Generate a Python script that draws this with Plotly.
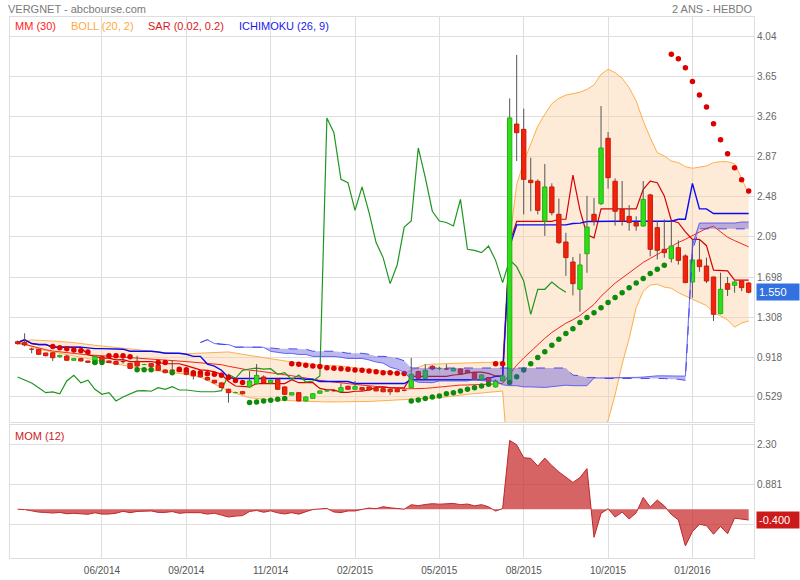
import plotly.graph_objects as go

# ---------------- data (weekly bars, index 0..104) ----------------
tick_labels = ["06/2014", "09/2014", "11/2014", "02/2015", "05/2015", "08/2015", "10/2015", "01/2016"]
tick_bars = [12, 24, 36, 48, 60, 72, 84, 96]

price_ticks = [0.529, 0.918, 1.308, 1.698, 2.09, 2.48, 2.87, 3.26, 3.65, 4.04]
price_tick_text = ["0.529", "0.918", "1.308", "1.698", "2.09", "2.48", "2.87", "3.26", "3.65", "4.04"]
mom_ticks = [2.30, 0.881, -0.538]
mom_tick_text = ["2.30", "0.881", ""]

open_ = [
    1.068, 1.059, 0.995, 0.994, 0.958, 0.96, 0.922, 0.928, 0.887, 0.903,
    0.88, 0.854, 0.922, 0.88, 0.874, 0.874, 0.857, 0.877, 0.845, 0.854,
    0.838, 0.792, 0.792, 0.792, 0.783, 0.766, 0.75, 0.718, 0.692, 0.666,
    0.604, 0.572, 0.581, 0.627, 0.659, 0.724, 0.666, 0.70, 0.627, 0.548,
    0.571, 0.49, 0.516, 0.565, 0.588, 0.59, 0.581, 0.633, 0.604, 0.62,
    0.627, 0.614, 0.61, 0.604, 0.604, 0.594, 0.62, 0.776, 0.711, 0.828,
    0.808, 0.802, 0.783, 0.802, 0.789, 0.766, 0.70, 0.718, 0.627, 0.685,
    0.68, 3.19, 3.139, 2.642, 2.632, 2.245, 2.577, 2.31, 2.04, 1.845,
    1.579, 1.926, 2.31, 2.414, 3.051, 2.632, 2.358, 2.29, 2.229, 2.196,
    2.499, 2.18, 1.969, 1.878, 1.985, 1.904, 1.65, 1.865, 1.806, 1.699,
    1.342, 1.634, 1.618, 1.66, 1.64]
high = [
    1.08, 1.15, 1.01, 1.0, 0.96, 0.965, 0.94, 0.94, 0.91, 0.91,
    0.88, 0.93, 0.93, 0.885, 0.88, 0.945, 0.86, 0.93, 0.852, 0.86,
    0.84, 0.80, 0.886, 0.80, 0.79, 0.77, 0.755, 0.72, 0.695, 0.67,
    0.61, 0.58, 0.585, 0.78, 0.85, 0.74, 0.70, 0.71, 0.63, 0.575,
    0.575, 0.535, 0.565, 0.595, 0.60, 0.60, 0.66, 0.64, 0.685, 0.625,
    0.63, 0.62, 0.615, 0.61, 0.61, 0.60, 0.91, 0.785, 0.848, 0.84,
    0.825, 0.848, 0.81, 0.81, 0.795, 0.77, 0.75, 0.725, 0.70, 0.745,
    3.44, 3.864, 3.34, 2.862, 2.65, 2.80, 2.612, 2.463, 2.13, 1.894,
    1.926, 2.49, 2.47, 3.366, 3.113, 2.66, 2.635, 2.40, 2.29, 2.635,
    2.51, 2.245, 2.26, 2.245, 2.056, 1.92, 2.066, 2.066, 1.887, 1.70,
    1.741, 1.70, 1.66, 1.66, 1.65]
low = [
    1.04, 1.023, 0.955, 0.94, 0.925, 0.88, 0.91, 0.88, 0.88, 0.875,
    0.865, 0.85, 0.87, 0.86, 0.84, 0.854, 0.80, 0.80, 0.843, 0.82,
    0.785, 0.76, 0.766, 0.77, 0.74, 0.70, 0.72, 0.69, 0.66, 0.615,
    0.473, 0.565, 0.555, 0.62, 0.65, 0.66, 0.66, 0.60, 0.55, 0.545,
    0.485, 0.485, 0.51, 0.56, 0.58, 0.58, 0.57, 0.60, 0.60, 0.59,
    0.59, 0.585, 0.575, 0.55, 0.575, 0.585, 0.615, 0.705, 0.705, 0.79,
    0.79, 0.79, 0.78, 0.745, 0.76, 0.695, 0.695, 0.67, 0.62, 0.68,
    0.66, 2.83, 2.31, 2.34, 2.31, 2.10, 2.30, 2.02, 1.71, 1.52,
    1.36, 1.74, 2.20, 2.40, 2.56, 2.20, 2.20, 2.15, 2.15, 2.19,
    1.90, 1.87, 1.887, 1.84, 1.82, 1.64, 1.497, 1.75, 1.64, 1.27,
    1.335, 1.514, 1.546, 1.56, 1.54]
close = [
    1.049, 1.036, 0.99, 0.945, 0.932, 0.912, 0.935, 0.887, 0.903, 0.88,
    0.867, 0.922, 0.874, 0.864, 0.848, 0.87, 0.808, 0.831, 0.85, 0.825,
    0.789, 0.766, 0.783, 0.776, 0.75, 0.734, 0.724, 0.695, 0.666, 0.62,
    0.571, 0.578, 0.56, 0.685, 0.74, 0.666, 0.692, 0.604, 0.555, 0.571,
    0.49, 0.529, 0.561, 0.588, 0.59, 0.585, 0.62, 0.604, 0.63, 0.597,
    0.597, 0.588, 0.58, 0.58, 0.58, 0.59, 0.75, 0.711, 0.789, 0.802,
    0.81, 0.80, 0.805, 0.75, 0.766, 0.70, 0.744, 0.675, 0.685, 0.734,
    3.25, 3.106, 2.651, 2.619, 2.349, 2.577, 2.326, 2.034, 1.888, 1.634,
    1.816, 2.186, 2.245, 2.957, 2.667, 2.34, 2.245, 2.23, 2.196, 2.456,
    1.969, 1.959, 1.936, 2.001, 1.861, 1.644, 1.865, 1.80, 1.66, 1.335,
    1.579, 1.579, 1.65, 1.595, 1.55]

mm30 = [
    1.049, 1.043, 1.025, 1.005, 0.990, 0.977, 0.971, 0.961, 0.954, 0.946,
    0.939, 0.937, 0.932, 0.927, 0.922, 0.918, 0.912, 0.908, 0.905, 0.901,
    0.895, 0.889, 0.884, 0.879, 0.874, 0.868, 0.863, 0.857, 0.850, 0.844,
    0.828, 0.813, 0.799, 0.790, 0.784, 0.776, 0.767, 0.758, 0.746, 0.736,
    0.724, 0.710, 0.700, 0.691, 0.682, 0.673, 0.666, 0.659, 0.652, 0.644,
    0.638, 0.632, 0.625, 0.618, 0.613, 0.608, 0.609, 0.609, 0.613, 0.619,
    0.627, 0.635, 0.643, 0.645, 0.646, 0.647, 0.649, 0.651, 0.656, 0.661,
    0.753, 0.839, 0.909, 0.976, 1.035, 1.101, 1.158, 1.206, 1.248, 1.282,
    1.323, 1.376, 1.432, 1.511, 1.580, 1.639, 1.689, 1.739, 1.786, 1.841,
    1.880, 1.919, 1.956, 1.998, 2.035, 2.066, 2.103, 2.141, 2.173, 2.193,
    2.138, 2.087, 2.053, 2.019, 1.993]

bb_up_idx = [0, 2, 5, 8, 11, 14, 18, 21, 24, 27,
             30, 32, 34, 36, 39, 41, 43, 46, 48, 51,
             53, 55, 56, 58, 62, 65, 69, 70, 71, 72,
             73, 74, 75, 76, 77, 78, 80, 81, 82, 83,
             84, 85, 86, 87, 88, 89, 90, 91, 92, 93,
             94, 95, 96, 97, 98, 99, 100, 101, 102, 103, 104]
bb_up = [1.055, 1.085, 1.075, 1.059, 1.033, 1.01, 0.985, 0.961, 0.95, 0.96,
         0.968, 0.945, 0.922, 0.903, 0.87, 0.857, 0.838, 0.831, 0.815, 0.79,
         0.77, 0.755, 0.79, 0.845, 0.857, 0.86, 0.87, 2.05, 2.60, 2.82,
         3.0, 3.17, 3.285, 3.389, 3.441, 3.473, 3.50, 3.529, 3.571, 3.675,
         3.724, 3.691, 3.636, 3.545, 3.415, 3.22, 3.057, 2.911, 2.879, 2.83,
         2.814, 2.775, 2.759, 2.772, 2.781, 2.814, 2.823, 2.823, 2.804, 2.66, 2.505]
bb_lo_idx = [0, 1, 3, 6, 8, 11, 13, 15, 18, 20,
             22, 24, 26, 29, 31, 33, 36, 40, 44, 50,
             55, 60, 64, 69, 70, 71, 73, 76, 79, 81,
             83, 84, 85, 86, 87, 88, 89, 90, 91, 92,
             93, 94, 95, 96, 98, 99, 100, 101, 102, 103, 104]
bb_lo = [1.055, 1.045, 0.994, 0.955, 0.935, 0.896, 0.87, 0.838, 0.80, 0.783,
         0.766, 0.75, 0.725, 0.62, 0.565, 0.522, 0.50, 0.49, 0.48, 0.485,
         0.50, 0.522, 0.555, 0.587, -0.3, -0.5, -0.75, -0.6, -0.35, -0.1,
         0.18, 0.30, 0.55, 0.85, 1.10, 1.40, 1.56, 1.62, 1.628, 1.60,
         1.589, 1.546, 1.514, 1.48, 1.42, 1.35, 1.32, 1.28, 1.21, 1.25, 1.27]

tenkan = [
    1.06, 1.087, 1.05, 1.04, 1.04, 1.015, 1.015, 1.015, 1.015, 1.013,
    0.94, 0.925, 0.908, 0.908, 0.89, 0.893, 0.873, 0.873, 0.873, 0.873,
    0.865, 0.853, 0.853, 0.853, 0.835, 0.815, 0.793, 0.788, 0.773, 0.75,
    0.68, 0.636, 0.632, 0.627, 0.66, 0.66, 0.66, 0.66, 0.66, 0.698,
    0.668, 0.668, 0.668, 0.613, 0.598, 0.598, 0.573, 0.573, 0.585, 0.585,
    0.598, 0.623, 0.628, 0.618, 0.618, 0.618, 0.73, 0.73, 0.73, 0.73,
    0.73, 0.73, 0.743, 0.748, 0.763, 0.772, 0.772, 0.759, 0.734, 0.734,
    2.03, 2.242, 2.242, 2.242, 2.242, 2.242, 2.242, 2.262, 2.262, 2.692,
    2.35, 2.111, 2.08, 2.363, 2.363, 2.363, 2.363, 2.363, 2.363, 2.553,
    2.633, 2.618, 2.49, 2.25, 2.228, 2.138, 2.066, 2.066, 2.004, 1.765,
    1.765, 1.758, 1.668, 1.668, 1.668]
kijun = (
    [1.06, 1.087, 1.05, 1.04, 1.04] + [1.015] * 5 + [1.0075] + [1.0] * 3 + [0.995] * 2
    + [0.975] * 4 + [0.9675] + [0.955] * 3 + [0.945] + [0.925] * 2
    + [0.85, 0.83, 0.79, 0.719] + [0.709] * 10 + [0.7015] * 2 + [0.68] * 5 + [0.66] * 8
    + [0.6975] * 11 + [0.71] + [0.73] * 2 + [1.995] + [2.207] * 8 + [2.22, 2.2245, 2.24]
    + [2.242] * 12 + [2.262] * 2 + [2.612] + [2.363] * 2 + [2.318] * 6)

cloud_start = 26
senkou_a = [
    1.06, 1.087, 1.05, 1.04, 1.04, 1.015, 1.015, 1.015, 1.015, 1.013,
    0.974, 0.9625, 0.954, 0.954, 0.9425, 0.944, 0.924, 0.924, 0.924, 0.924,
    0.916, 0.904, 0.904, 0.904, 0.89, 0.87, 0.859, 0.819, 0.80, 0.77,
    0.70, 0.672, 0.67, 0.668, 0.685, 0.685, 0.685, 0.685, 0.685, 0.703,
    0.688, 0.685, 0.685, 0.647, 0.639, 0.639, 0.627, 0.627, 0.622, 0.622,
    0.629, 0.64, 0.644, 0.639, 0.639, 0.639, 0.714, 0.714, 0.714, 0.714,
    0.714, 0.714, 0.72, 0.723, 0.73, 0.735, 0.735, 0.735, 0.732, 0.732,
    2.01, 2.225, 2.225, 2.225, 2.225, 2.225, 2.225, 2.235, 2.235]
senkou_b = (
    [1.06, 1.087, 1.0525, 1.045, 1.0375] + [1.015] * 5
    + [1.0075] + [1.0] * 3 + [0.995] * 2 + [0.975] * 4
    + [0.9675] + [0.955] * 3 + [0.945] + [0.925] * 2 + [0.92, 0.905, 0.8825]
    + [0.8115] * 23 + [0.7415, 0.7365] + [0.719] * 2 + [0.709] * 10 + [0.7015] * 2 + [0.6915]
    + [1.9565] + [2.1685] * 8)

chikou_shift = 26

sar = (
    [None] * 5
    + [1.02, 1.01, 1.0, 0.987, 0.98, 0.968]
    + [0.864, 0.864]
    + [0.93, 0.93, 0.93, 0.92]
    + [0.795, 0.795, 0.795]
    + [0.864, 0.864]
    + [0.766]
    + [0.80, 0.795, 0.766, 0.766, 0.756, 0.75, 0.74, 0.718, 0.69, 0.669]
    + [0.474, 0.48, 0.49, 0.497, 0.506, 0.513]
    + [0.854, 0.848, 0.838, 0.831, 0.825, 0.815, 0.809, 0.805, 0.799, 0.792,
       0.789, 0.783, 0.776, 0.766, 0.766, 0.76, 0.757]
    + [0.49, 0.50, 0.513, 0.529, 0.539, 0.561, 0.571, 0.588, 0.604, 0.62, 0.636, 0.653]
    + [0.854, 0.854]
    + [0.669, 0.727, 0.792, 0.854, 0.913, 0.971, 1.033, 1.091, 1.147, 1.195,
       1.254, 1.303, 1.351, 1.40, 1.449, 1.498, 1.546, 1.595, 1.641, 1.683,
       1.732, 1.774, 1.813]
    + [3.87, 3.828, 3.74, 3.604, 3.474, 3.357, 3.194, 3.038, 2.9, 2.765, 2.648, 2.538])
sar_side = ("-----" + "rrrrrr" + "gg" + "rrrr" + "ggg" + "rr" + "g" + "r" * 10 + "g" * 6
            + "r" * 17 + "g" * 12 + "rr" + "g" * 23 + "r" * 12)

mom = [
    0, -0.013, -0.059, -0.104, -0.117, -0.137, -0.114, -0.162, -0.146, -0.169,
    -0.182, -0.127, -0.175, -0.172, -0.142, -0.075, -0.124, -0.081, -0.085, -0.062,
    -0.114, -0.114, -0.084, -0.146, -0.124, -0.13, -0.124, -0.175, -0.142, -0.211,
    -0.279, -0.247, -0.229, -0.081, -0.043, -0.11, -0.058, -0.13, -0.169, -0.124,
    -0.176, -0.091, -0.01, 0.01, 0.03, -0.1, -0.12, -0.062, -0.062, -0.007,
    0.042, 0.017, 0.09, 0.051, 0.019, 0.002, 0.16, 0.126, 0.169, 0.198,
    0.18, 0.203, 0.208, 0.162, 0.186, 0.12, 0.164, 0.085, -0.065, 0.023,
    2.461, 2.304, 1.841, 1.819, 1.544, 1.827, 1.56, 1.334, 1.144, 0.959,
    1.131, 1.452, -1.005, -0.149, 0.016, -0.279, -0.104, -0.347, -0.13, 0.422,
    0.081, 0.325, 0.12, -0.185, -0.384, -1.313, -0.802, -0.54, -0.585, -0.895,
    -0.617, -0.877, -0.319, -0.364, -0.386]

last_price_text = "1.550"
last_mom_text = "-0.400"

n = len(close)
bars = list(range(n))
for arr in (open_, high, low, mm30, tenkan, kijun, sar, mom):
    assert len(arr) == n, len(arr)
assert len(sar_side) == n
assert len(senkou_a) == n - cloud_start and len(senkou_b) == n - cloud_start
assert len(bb_up) == len(bb_up_idx) and len(bb_lo) == len(bb_lo_idx)

# ---------------- figure ----------------
FONT = "Liberation Sans, Arial, sans-serif"
GRID = "#dedede"
fig = go.Figure()

# Bollinger band
fig.add_trace(go.Scatter(x=bb_up_idx, y=bb_up, mode="lines",
                         line=dict(color="#ffae4a", width=1), hoverinfo="skip"))
fig.add_trace(go.Scatter(x=bb_lo_idx, y=bb_lo, mode="lines", fill="tonexty",
                         fillcolor="rgba(250,205,160,0.42)",
                         line=dict(color="#ffae4a", width=1), hoverinfo="skip"))

# MM30, Tenkan, Kijun, Chikou
fig.add_trace(go.Scatter(x=bars, y=mm30, mode="lines", line=dict(color="#f0281e", width=1)))
fig.add_trace(go.Scatter(x=bars, y=tenkan, mode="lines", line=dict(color="#d80000", width=1.2)))
fig.add_trace(go.Scatter(x=bars, y=kijun, mode="lines", line=dict(color="#0a0af0", width=1.4)))
fig.add_trace(go.Scatter(x=bars[:n - chikou_shift], y=close[chikou_shift:], mode="lines",
                         line=dict(color="#1e961e", width=1.2)))

# candles: wicks then bodies
wx, wy = [], []
for i in bars:
    wx += [i, i, None]
    wy += [low[i], high[i], None]
fig.add_trace(go.Scatter(x=wx, y=wy, mode="lines", line=dict(color="#555555", width=1),
                         hoverinfo="skip"))
half = 0.31
for up, fc, lc in ((True, "#2ede18", "#24b014"), (False, "#f2220c", "#c81a08")):
    bx, by = [], []
    for i in bars:
        if (close[i] >= open_[i]) == up:
            bx += [i - half, i + half, i + half, i - half, i - half, None]
            by += [open_[i], open_[i], close[i], close[i], open_[i], None]
    fig.add_trace(go.Scatter(x=bx, y=by, mode="lines", fill="toself", fillcolor=fc,
                             line=dict(color=lc, width=1), hoverinfo="skip"))

# Parabolic SAR
sx_r = [i for i in bars if sar_side[i] == "r"]
sx_g = [i for i in bars if sar_side[i] == "g"]
fig.add_trace(go.Scatter(x=sx_r, y=[sar[i] for i in sx_r], mode="markers",
                         marker=dict(color="#dc0000", size=5.5)))
fig.add_trace(go.Scatter(x=sx_g, y=[sar[i] for i in sx_g], mode="markers",
                         marker=dict(color="#0c8c0c", size=5.5)))

# Ichimoku cloud (on top)
cloud_x = bars[cloud_start:]
fig.add_trace(go.Scatter(x=cloud_x, y=senkou_a, mode="lines",
                         line=dict(color="rgba(80,80,245,0.85)", width=1)))
fig.add_trace(go.Scatter(x=cloud_x, y=senkou_b, mode="lines", fill="tonexty",
                         fillcolor="rgba(75,70,215,0.38)",
                         line=dict(color="rgba(60,60,240,0.9)", width=1, dash="dash")))

# Momentum panel
fig.add_trace(go.Scatter(x=bars, y=mom, mode="lines", fill="tozeroy",
                         fillcolor="rgba(200,40,40,0.72)",
                         line=dict(color="#c0262a", width=1), xaxis="x2", yaxis="y2"))

XR = [-1.08, 104.76]
common = dict(showgrid=True, gridcolor=GRID, gridwidth=1, zeroline=False, showline=True,
              linecolor=GRID, mirror=True, automargin=False)
fig.update_layout(
    width=800, height=580,
    margin=dict(l=10, r=46, t=17, b=22, autoexpand=False),
    paper_bgcolor="white", plot_bgcolor="white",
    showlegend=False, hovermode=False,
    font=dict(family=FONT, size=10, color="#555"),
    xaxis=dict(domain=[0, 1], range=XR, anchor="y", tickvals=tick_bars, showticklabels=False,
               ticks="", **common),
    yaxis=dict(domain=[0.2514, 1], range=[0.285, 4.234], anchor="x", side="right",
               tickvals=price_ticks, ticktext=price_tick_text, ticks="",
               tickfont=dict(size=10, color="#666"), **common),
    xaxis2=dict(domain=[0, 1], range=XR, anchor="y2", tickvals=tick_bars, ticktext=tick_labels,
                ticks="outside", ticklen=3, tickcolor="rgba(0,0,0,0)",
                tickfont=dict(size=10, color="#555"), **common),
    yaxis2=dict(domain=[0, 0.2458], range=[-1.744, 3.01], anchor="x2", side="right",
                tickvals=mom_ticks, ticktext=mom_tick_text, ticks="",
                tickfont=dict(size=10, color="#666"), **common),
)

ann = []
ann.append(dict(x=0, xref="paper", xanchor="left", xshift=-4, y=1, yref="paper", yanchor="middle",
                yshift=8, text="VERGNET - abcbourse.com", showarrow=False,
                font=dict(size=11, color="#7a7a7a")))
ann.append(dict(x=1, xref="paper", xanchor="right", xshift=1, y=1, yref="paper", yanchor="middle",
                yshift=8, text="2 ANS - HEBDO", showarrow=False,
                font=dict(size=11, color="#7a7a7a")))
legend_items = [("MM (30)", "#ff2222", 3), ("BOLL (20, 2)", "#ffaa40", 59),
                ("SAR (0.02, 0.2)", "#d81a1a", 136), ("ICHIMOKU (26, 9)", "#1a1aee", 227)]
for txt, col, xs in legend_items:
    ann.append(dict(x=0, xref="paper", xanchor="left", xshift=xs, y=1, yref="paper",
                    yanchor="middle", yshift=-9, text=txt, showarrow=False,
                    font=dict(size=11, color=col)))
ann.append(dict(x=0, xref="paper", xanchor="left", xshift=3, y=0.2458, yref="paper",
                yanchor="middle", yshift=-11, text="MOM (12)", showarrow=False,
                font=dict(size=11, color="#cc2222")))
ann.append(dict(x=1, xref="paper", xanchor="left", xshift=2, y=close[-1], yref="y",
                yanchor="middle", text=last_price_text, showarrow=False, align="left",
                bgcolor="#3370e0", width=38, height=12, borderpad=2,
                font=dict(size=11, color="white")))
ann.append(dict(x=1, xref="paper", xanchor="left", xshift=2, y=mom[-1], yref="y2",
                yanchor="middle", text=last_mom_text, showarrow=False, align="left",
                bgcolor="#cc1a1a", width=38, height=12, borderpad=2,
                font=dict(size=11, color="white")))
fig.update_layout(annotations=ann)

# remove the browser's default 8px page margin so the figure sits at the window origin
fig.write_html("out.html", config={"displayModeBar": False},
               post_script="document.body.style.margin='0px';")
